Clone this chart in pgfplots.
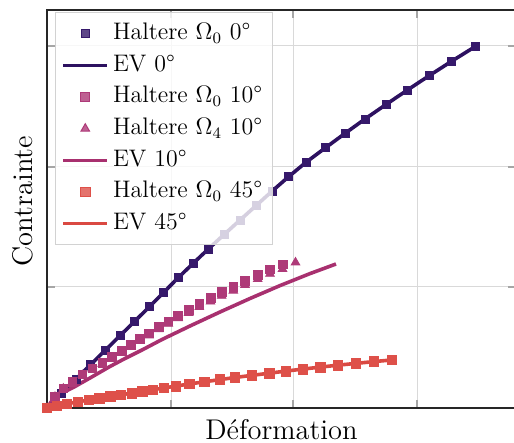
\documentclass[border=0pt]{standalone}
\usepackage{pgfplots}
\pgfplotsset{compat=1.18}
\usepackage{pgfplotstable}
\definecolor{czero}{HTML}{2D1160}
\definecolor{czerom}{HTML}{36196B}
\definecolor{cten}{HTML}{A8306F}
\definecolor{ctenm}{HTML}{AE3A78}
\definecolor{cff}{HTML}{DA4942}
\definecolor{cffm}{HTML}{DE5049}

\pgfplotstableread{
x y
0 0
14 14.5
29 28.9
43.7 43.4
58.3 57.8
73 72.3
87.7 86.7
102.3 101.2
116.7 115.6
131 130.1
146 144.5
161.3 159
177 173.4
193 187.9
209 202.3
225 216.8
241.5 231.2
259 245.7
278.3 260.1
298 274.6
318 289
339 303.5
360.3 317.9
382.3 332.4
404.7 346.8
428 361.3
}\tzero

\pgfplotstableread{
x y
0 0
8 11.3
16.3 19.7
25.3 26.3
35.3 33.7
45.3 39.7
55.3 45.3
64.7 51.3
74.7 57
84 63
93 69
102 74.7
111.5 81
121.3 86.7
131.2 92.5
141.7 98
152.3 104
163.5 109.7
174.7 115.7
186.3 121
198 127
210.7 133
223 138.5
235.5 143.5
}\ttensq

\pgfplotstableread{
x y
0 0
8 11.1
16.3 19.3
25.3 25.7
35.3 32.9
45.3 38.7
55.3 44.1
64.7 49.9
74.7 55.4
84 61.2
93 67
102 72.5
111.5 78.7
121.3 84.2
131.2 89.8
141.7 95.1
152.3 100.9
163.5 106.4
174.7 112.2
186.3 117.3
198 123.1
210.7 128.9
223 134.2
235.5 139
248.5 145.5
}\ttentri

\pgfplotstableread{
x y
0 0
4 6
8 10.5
16 15.5
28 21.5
43 30
62 41
78 49.5
95 58
115 68.5
143 82
173 96
203 109.5
233 122.4
263 134.4
289 144
}\ttenev

\pgfplotstableread{
x y
0 0
10 2.2
20 4.2
30.7 6.1
41.7 8
52.3 9.8
63.3 11.5
74 13.2
85 14.9
95.5 16.6
106 18.3
116.8 20
128.7 21.9
142.3 24
157.3 26.2
173 28.4
188 30.5
204.7 32.6
222.3 34.8
238.7 36.9
255.7 38.9
273.3 40.9
290.7 42.8
308.7 44.6
326.7 46.4
344.7 48
}\tff

\begin{document}
\begin{tikzpicture}
\begin{axis}[
  name=ax,
  scale only axis, width=234.5bp, height=199bp,
  xmin=0, xmax=469, ymin=0, ymax=398,
  xtick={0,124,246,370}, ytick={0,121,241,362},
  xticklabels={}, yticklabels={},
  grid=major,
  major grid style={gray!30, line width=0.5bp},
  tick style={gray!70, line width=0.6bp},
  major tick length=4bp,
  axis line style={black!85, line width=0.7bp},
  xlabel={Déformation}, ylabel={Contrainte},
  every axis x label/.style={at={([yshift=-15.8bp]axis description cs:0.5,0)}, anchor=base, font=\fontsize{14.3}{16}\selectfont},
  every axis y label/.style={at={([xshift=-7bp]axis description cs:0,0.52)}, rotate=90, anchor=base, font=\fontsize{14.3}{16}\selectfont},
  legend cell align=left,
  legend image code/.code={\draw[mark repeat=2,mark phase=2] plot coordinates {(0bp,0bp) (11bp,0bp) (22bp,0bp)};},
  legend style={at={(axis description cs:0.017,0.995)}, anchor=north west,
    draw=gray!35, line width=0.5bp, fill=white, fill opacity=0.8, draw opacity=1, text opacity=1,
    font=\fontsize{12}{14}\selectfont, inner xsep=3bp, inner ysep=2.8bp, row sep=0pt,
    nodes={inner sep=2bp, text height=8.85pt, text depth=3pt}},
]
\addplot[only marks, mark=square*, mark size=2bp, mark options={fill=czerom, draw=czerom}] table[x=x,y=y] {\tzero};
\addlegendentry{Haltere $\Omega_0$ 0°}
\addplot[no marks, czero, line width=1.8bp] table[x=x,y=y] {\tzero};
\addlegendentry{EV 0°}
\addplot[only marks, mark=square*, mark size=2.2bp, mark options={fill=ctenm, draw=ctenm}] table[x=x,y=y] {\ttensq};
\addlegendentry{Haltere $\Omega_0$ 10°}
\addplot[only marks, mark=triangle*, mark size=2.5bp, mark options={fill=ctenm, draw=ctenm}] table[x=x,y=y] {\ttentri};
\addlegendentry{Haltere $\Omega_4$ 10°}
\addplot[no marks, cten, line width=1.8bp] table[x=x,y=y] {\ttenev};
\addlegendentry{EV 10°}
\addplot[only marks, mark=square*, mark size=2.4bp, mark options={fill=cffm, draw=cffm}] table[x=x,y=y] {\tff};
\addlegendentry{Haltere $\Omega_0$ 45°}
\addplot[no marks, cff, line width=1.8bp] table[x=x,y=y] {\tff};
\addlegendentry{EV 45°}
\end{axis}
\pgfresetboundingbox
\path[use as bounding box] ([shift={(-23.5bp,-17.5bp)}]ax.south west) rectangle ([shift={(-1bp,5bp)}]ax.north east);
\end{tikzpicture}
\end{document}
